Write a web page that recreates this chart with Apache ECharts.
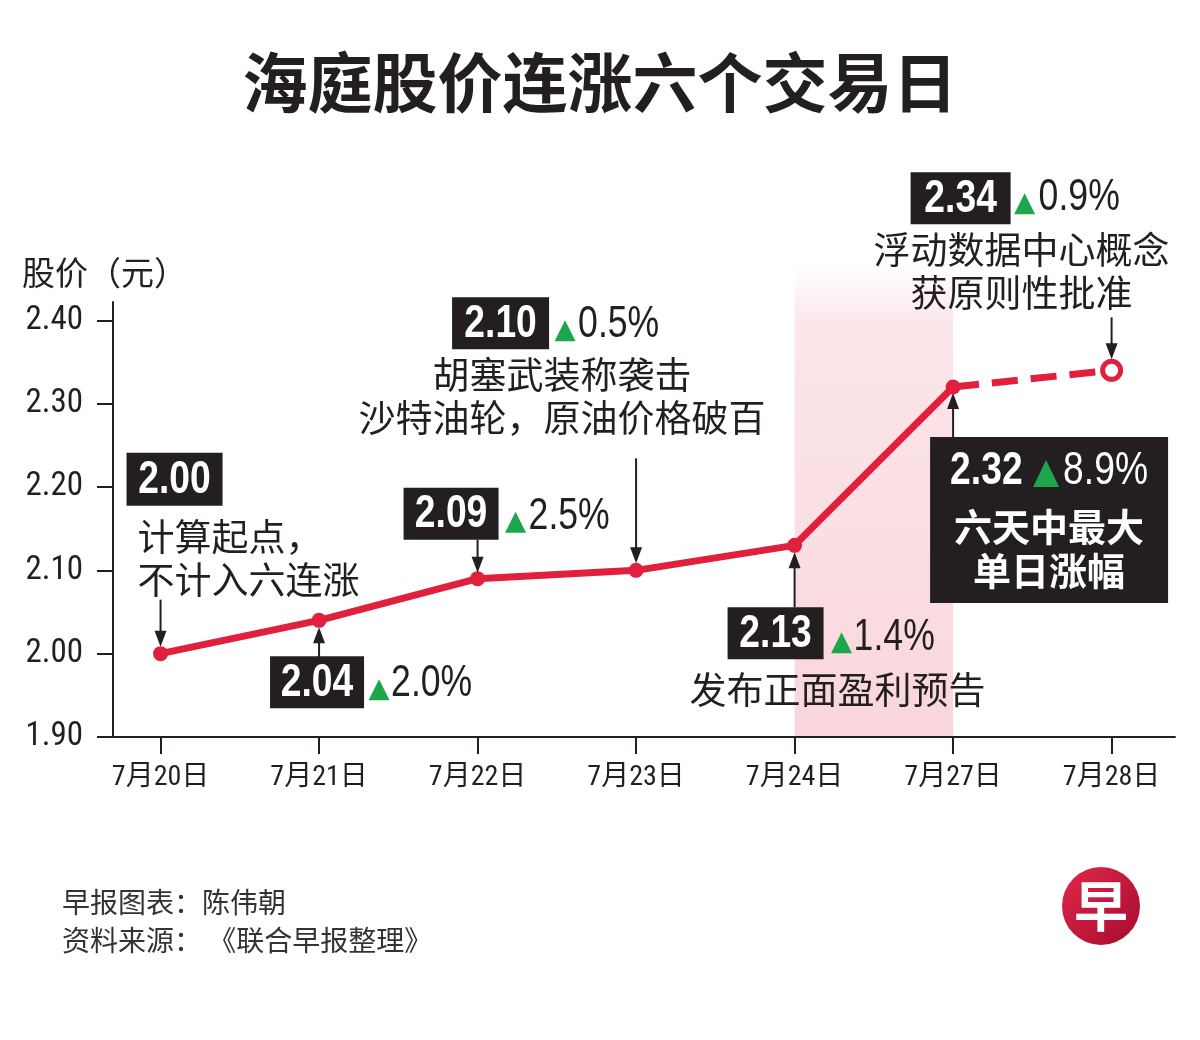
<!DOCTYPE html>
<html><head><meta charset="utf-8">
<script src="https://cdn.jsdelivr.net/npm/echarts@6.0.0/dist/echarts.min.js"></script>
<style>html,body{margin:0;padding:0;background:#fff}#c{width:1200px;height:1040px}</style>
</head><body><div id="c"></div>
<script>
// ---- data ----
const categories = ['7月20日', '7月21日', '7月22日', '7月23日', '7月24日', '7月27日', '7月28日'];
const prices = [2.00, 2.04, 2.09, 2.10, 2.13, 2.32, 2.34];
const priceLabels = ['2.00', '2.04', '2.09', '2.10', '2.13', '2.32', '2.34'];
const changes = ['', '2.0%', '2.5%', '0.5%', '1.4%', '8.9%', '0.9%'];
const yTicks = [1.90, 2.00, 2.10, 2.20, 2.30, 2.40];
const notes = [
  ['计算起点，', '不计入六连涨'],
  [],
  [],
  ['胡塞武装称袭击', '沙特油轮，原油价格破百'],
  ['发布正面盈利预告'],
  ['六天中最大', '单日涨幅'],
  ['浮动数据中心概念', '获原则性批准']
];
const titleText = '海庭股价连涨六个交易日';
const yName = '股价（元）';
const credits = ['早报图表：陈伟朝', '资料来源： 《联合早报整理》'];
const logoChar = '早';

// ---- style ----
const RED = '#e0203c';
const INK = '#231f20';
const GREEN = '#1ea64c';
const AXF = "'Roboto Condensed','Liberation Sans Narrow','DejaVu Sans Condensed','Liberation Sans','Noto Sans CJK SC',sans-serif";
const NUM = "'Liberation Sans','Noto Sans CJK SC',sans-serif";
const CJK = "'Noto Sans CJK SC',sans-serif";
const SQ = 0.81; // horizontal squeeze for condensed numerals

const chart = echarts.init(document.getElementById('c'), null, {renderer: 'canvas'});
const solidData = prices.slice(0, 6).map((v, i) => [i, v]);
const dashData = [{value: [5, prices[5]], symbol: 'none'}, {value: [6, prices[6]]}];
const catIdx = categories.map((c, i) => i);

chart.setOption({
  animation: false,
  backgroundColor: '#fff',
  title: {
    text: titleText, left: 'center', top: 45,
    textStyle: {fontSize: 65, fontWeight: 'bold', color: INK, fontFamily: CJK}
  },
  grid: {left: 113, right: 25, top: 302, bottom: 303},
  xAxis: {
    type: 'value', min: -0.3, max: 6.4,
    axisLine: {onZero: false, lineStyle: {color: INK, width: 2}},
    axisTick: {show: true, customValues: catIdx, length: 17, lineStyle: {color: INK, width: 2}},
    axisLabel: {
      customValues: catIdx, margin: 27, color: INK, fontSize: 28, fontFamily: AXF,
      formatter: v => categories[Math.round(v)]
    },
    splitLine: {show: false}
  },
  yAxis: {
    type: 'value', min: 1.9, max: 2.422,
    axisLine: {show: true, onZero: false, lineStyle: {color: INK, width: 2}},
    axisTick: {show: true, customValues: yTicks, length: 16, lineStyle: {color: INK, width: 2}},
    axisLabel: {
      customValues: yTicks, margin: 30, color: INK, fontSize: 33, fontFamily: AXF,
      formatter: v => v.toFixed(2)
    },
    splitLine: {show: false}
  },
  series: [
    {
      type: 'line', data: solidData, z: 3,
      lineStyle: {color: RED, width: 7},
      symbol: 'circle', symbolSize: 15, showSymbol: true,
      itemStyle: {color: RED}
    },
    {
      type: 'line', data: dashData, z: 3,
      lineStyle: {color: RED, width: 7, type: [26, 13]},
      symbol: 'circle', symbolSize: 18,
      itemStyle: {color: '#fff', borderColor: RED, borderWidth: 5}
    }
  ]
});

// ---- annotations positioned from the chart's own scales ----
function P(i) { return chart.convertToPixel({gridIndex: 0}, [i, prices[i]]); }
const g = [];
function box(x, y, w, h) { g.push({type: 'rect', z: 50, shape: {x, y, width: w, height: h}, style: {fill: INK}}); }
function txt(x, y, text, o, sx) {
  g.push({type: 'text', z: 60, x, y, scaleX: sx || 1, style: Object.assign({
    text, fill: INK, fontSize: 37, fontFamily: CJK, align: 'left', verticalAlign: 'middle'
  }, o || {})});
}
function tri(cx, b, w, h) {
  w = w || 21; h = h || 21;
  g.push({type: 'polygon', z: 60, shape: {points: [[cx - w / 2, b], [cx + w / 2, b], [cx, b - h]]}, style: {fill: GREEN}});
}
function arrow(x, y1, y2) {
  const dir = y2 > y1 ? 1 : -1;
  g.push({type: 'line', z: 55, shape: {x1: x, y1, x2: x, y2: y2 - dir * 10}, style: {stroke: INK, lineWidth: 2}});
  g.push({type: 'polygon', z: 55, shape: {points: [[x - 6, y2 - dir * 16], [x + 6, y2 - dir * 16], [x, y2]]}, style: {fill: INK}});
}
function numBox(x, y, w, h, i) {
  box(x, y, w, h);
  txt(x + w / 2, y + h / 2 + 1, priceLabels[i], {fill: '#fff', fontSize: 46, fontWeight: 'bold', fontFamily: NUM, align: 'center'}, SQ);
}
function pct(x, y, i, o) { txt(x, y, changes[i], Object.assign({fontSize: 44, fontFamily: NUM}, o || {}), SQ); }

// pink highlight band between 7月24日 and 7月27日
const a4 = P(4), a5 = P(5);
const axisBottom = chart.convertToPixel({yAxisIndex: 0}, 1.9);
const axisTop = chart.convertToPixel({yAxisIndex: 0}, 2.422);
g.push({
  type: 'rect', z: -10, silent: true,
  shape: {x: a4[0], y: axisTop - 36, width: a5[0] - a4[0], height: axisBottom - axisTop + 36},
  style: {fill: new echarts.graphic.LinearGradient(0, 0, 0, 1, [
    {offset: 0, color: 'rgba(250,222,227,0)'},
    {offset: 0.12, color: 'rgba(250,222,227,0.75)'},
    {offset: 1, color: 'rgba(249,214,220,1)'}
  ])}
});

// 0: 2.00
let p = P(0);
numBox(p[0] - 34, p[1] - 201, 96, 53, 0);
txt(p[0] - 23, p[1] - 117, notes[0][0]);
txt(p[0] - 23, p[1] - 74, notes[0][1]);
arrow(p[0], p[1] - 54, p[1] - 7);

// 1: 2.04
p = P(1);
numBox(p[0] - 49, p[1] + 36, 94, 52, 1);
tri(p[0] + 60, p[1] + 80);
pct(p[0] + 72, p[1] + 64, 1);
arrow(p[0], p[1] + 38, p[1] + 7);

// 2: 2.09
p = P(2);
numBox(p[0] - 74, p[1] - 91, 95, 52, 2);
tri(p[0] + 38, p[1] - 46);
pct(p[0] + 51, p[1] - 62, 2);
arrow(p[0], p[1] - 39, p[1] - 6);

// 3: 2.10
p = P(3);
numBox(p[0] - 184, p[1] - 273, 97, 52, 3);
tri(p[0] - 71, p[1] - 229);
pct(p[0] - 58, p[1] - 245, 3);
txt(p[0] - 74, p[1] - 195, notes[3][0], {align: 'center'});
txt(p[0] - 74, p[1] - 152, notes[3][1], {align: 'center'});
arrow(p[0], p[1] - 112, p[1] - 7);

// 4: 2.13
p = P(4);
numBox(p[0] - 67, p[1] + 62, 96, 52, 4);
tri(p[0] + 47, p[1] + 108);
pct(p[0] + 59, p[1] + 93, 4);
txt(p[0] + 43, p[1] + 145, notes[4][0], {align: 'center'});
arrow(p[0], p[1] + 62, p[1] + 7);

// 5: 2.32
p = P(5);
box(p[0] - 23, p[1] + 50, 238, 166);
txt(p[0] - 3, p[1] + 84, priceLabels[5], {fill: '#fff', fontSize: 46, fontWeight: 'bold', fontFamily: NUM}, SQ);
tri(p[0] + 93, p[1] + 100, 26, 27);
pct(p[0] + 110, p[1] + 84, 5, {fill: '#fff', fontSize: 46});
txt(p[0] + 96, p[1] + 140, notes[5][0], {align: 'center', fill: '#fff', fontWeight: 'bold', fontSize: 38});
txt(p[0] + 96, p[1] + 184, notes[5][1], {align: 'center', fill: '#fff', fontWeight: 'bold', fontSize: 38});
arrow(p[0], p[1] + 50, p[1] + 6);

// 6: 2.34
p = P(6);
numBox(p[0] - 201, p[1] - 198, 100, 52, 6);
tri(p[0] - 87, p[1] - 156);
pct(p[0] - 73, p[1] - 172, 6);
txt(p[0] - 90, p[1] - 120, notes[6][0], {align: 'center'});
txt(p[0] - 90, p[1] - 77, notes[6][1], {align: 'center'});
arrow(p[0], p[1] - 53, p[1] - 11);

// axis name, credits, logo
txt(22, 272, yName, {fontSize: 33});
txt(62, 902, credits[0], {fontSize: 28, fill: '#333'});
txt(62, 940, credits[1], {fontSize: 28, fill: '#333'});
g.push({type: 'circle', z: 60, shape: {cx: 1101, cy: 906, r: 39},
  style: {fill: new echarts.graphic.LinearGradient(0, 0, 1, 1, [
    {offset: 0, color: '#e0284a'}, {offset: 1, color: '#a50b2e'}
  ])}});
txt(1101, 906, logoChar, {fill: '#fff', fontSize: 54, fontWeight: 'bold', align: 'center'});

chart.setOption({graphic: g});
</script>
</body></html>
